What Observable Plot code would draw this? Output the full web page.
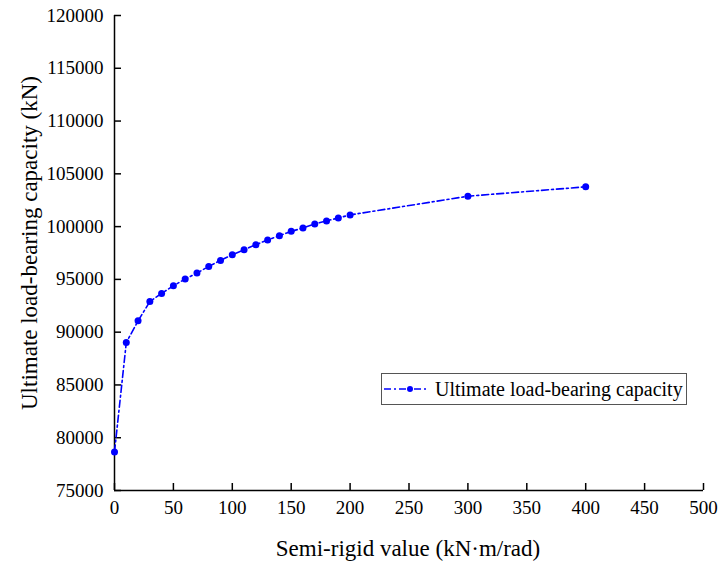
<!DOCTYPE html>
<html>
<head>
<meta charset="utf-8">
<script src="https://cdn.jsdelivr.net/npm/d3@7"></script>
<script src="https://cdn.jsdelivr.net/npm/@observablehq/plot@0.6"></script>
<style>
  html, body { margin: 0; padding: 0; background: #fff; }
  #wrap { position: relative; width: 719px; height: 562px; }
  #wrap svg text { font-family: "Liberation Serif", "Times New Roman", serif !important; }
  #legend {
    position: absolute; left: 381px; top: 373px; width: 306px; height: 32px;
    border: 1px solid #555; box-sizing: border-box; background: #fff;
    font-family: "Liberation Serif", "Times New Roman", serif; font-size: 20px; color: #000;
    display: flex; align-items: center;
  }
  #legend svg { margin-left: 1px; margin-right: 6px; }
</style>
</head>
<body>
<div id="wrap"></div>
<script>
const semiRigid = [0, 10, 20, 30, 40, 50, 60, 70, 80, 90, 100, 110, 120, 130, 140, 150, 160, 170, 180, 190, 200, 300, 400];
const capacity = [78650, 89010, 91070, 92900, 93670, 94400, 95030, 95600, 96230, 96800, 97340, 97810, 98290, 98740, 99140, 99550, 99870, 100250, 100540, 100820, 101110, 102880, 103770];
const xTicks = [0, 50, 100, 150, 200, 250, 300, 350, 400, 450, 500];
const yTicks = [75000, 80000, 85000, 90000, 95000, 100000, 105000, 110000, 115000, 120000];
const seriesName = "Ultimate load-bearing capacity";
const xLabel = "Semi-rigid value (kN·m/rad)";
const yLabel = "Ultimate load-bearing capacity (kN)";

const data = semiRigid.map((x, i) => ({x, y: capacity[i]}));
const blue = "#0000ff";
const dash = "7,3,2,3";

const chart = Plot.plot({
  width: 719,
  height: 562,
  marginLeft: 114,
  marginRight: 16,
  marginTop: 15,
  marginBottom: 72,
  style: {fontFamily: "Liberation Serif, serif", color: "#000", background: "#fff"},
  x: {domain: [0, 500]},
  y: {domain: [75000, 120000]},
  marks: [
    Plot.axisX({ticks: xTicks, tickSize: -7, tickPadding: 17, fontSize: 19, tickFormat: d => String(d), label: null, strokeWidth: 1.5}),
    Plot.axisY({ticks: yTicks, tickSize: -7, tickPadding: 18, fontSize: 19, tickFormat: d => String(d), label: null, strokeWidth: 1.5}),
    Plot.ruleX([0], {stroke: "#000", strokeWidth: 1.5}),
    Plot.ruleY([75000], {stroke: "#000", strokeWidth: 1.5}),
    Plot.line(data, {x: "x", y: "y", stroke: blue, strokeWidth: 1.6, strokeDasharray: dash}),
    Plot.dot(data, {x: "x", y: "y", r: 3.5, fill: blue, stroke: "none"})
  ]
});

const wrap = document.getElementById("wrap");
wrap.appendChild(chart);

// axis titles
const svg = d3.select(chart);
svg.append("text")
  .attr("x", 408).attr("y", 556)
  .attr("text-anchor", "middle")
  .attr("font-size", 23)
  .attr("fill", "#000")
  .text(xLabel);
svg.append("text")
  .attr("transform", "translate(37,243) rotate(-90)")
  .attr("text-anchor", "middle")
  .attr("font-size", 23)
  .attr("fill", "#000")
  .text(yLabel);

// legend
const legend = document.createElement("div");
legend.id = "legend";
legend.innerHTML = `<svg width="46" height="10"><line x1="1" y1="5" x2="45" y2="5" stroke="${blue}" stroke-width="1.6" stroke-dasharray="${dash}"/><circle cx="27" cy="5" r="3" fill="${blue}"/></svg><span>${seriesName}</span>`;
wrap.appendChild(legend);
</script>
</body>
</html>
